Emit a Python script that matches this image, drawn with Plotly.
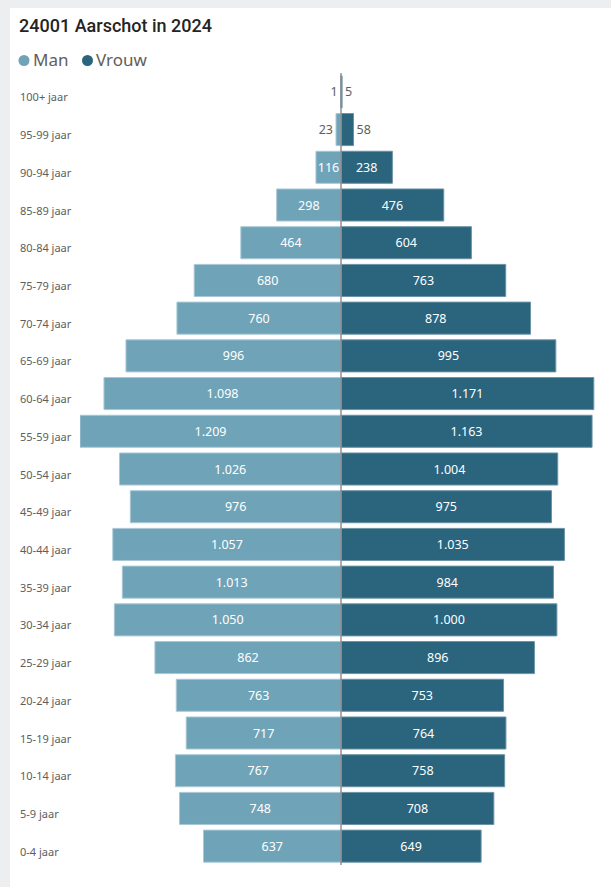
import plotly.graph_objects as go

categories = ["100+ jaar", "95-99 jaar", "90-94 jaar", "85-89 jaar", "80-84 jaar",
              "75-79 jaar", "70-74 jaar", "65-69 jaar", "60-64 jaar", "55-59 jaar",
              "50-54 jaar", "45-49 jaar", "40-44 jaar", "35-39 jaar", "30-34 jaar",
              "25-29 jaar", "20-24 jaar", "15-19 jaar", "10-14 jaar", "5-9 jaar", "0-4 jaar"]
man = [1, 23, 116, 298, 464, 680, 760, 996, 1098, 1209, 1026, 976, 1057, 1013, 1050,
       862, 763, 717, 767, 748, 637]
vrouw = [5, 58, 238, 476, 604, 763, 878, 995, 1171, 1163, 1004, 975, 1035, 984, 1000,
         896, 753, 764, 758, 708, 649]

C_MAN = "#6FA3B8"
C_VROUW = "#2A647D"
TXT = "#605E5C"

W, H = 611, 887
ML, MR, MT, MB = 80, 11, 73, 22
PW = W - ML - MR
PH = H - MT - MB


def fx(px):
    return (px - ML) / PW


def fy(py):
    return (H - MB - py) / PH


def fmt(v):
    return f"{v:,}".replace(",", ".")


def pos(v):
    return "inside" if v >= 100 else "outside"


fig = go.Figure()
fig.add_trace(go.Bar(
    y=categories, x=[-v for v in man], orientation="h", name="Man",
    marker=dict(color=C_MAN, line=dict(color="#A9C8D5", width=1)),
    text=[fmt(v) for v in man], textposition=[pos(v) for v in man],
    insidetextanchor="middle", constraintext="none", cliponaxis=False, textangle=0,
    insidetextfont=dict(color="white", size=12.5, family="Noto Sans"),
    outsidetextfont=dict(color=TXT, size=12.5, family="Noto Sans"),
    hoverinfo="skip", showlegend=False,
))
fig.add_trace(go.Bar(
    y=categories, x=vrouw, orientation="h", name="Vrouw",
    marker=dict(color=C_VROUW, line=dict(color="#6B93A5", width=1)),
    text=[fmt(v) for v in vrouw], textposition=[pos(v) for v in vrouw],
    insidetextanchor="middle", constraintext="none", cliponaxis=False, textangle=0,
    insidetextfont=dict(color="white", size=12.5, family="Noto Sans"),
    outsidetextfont=dict(color=TXT, size=12.5, family="Noto Sans"),
    hoverinfo="skip", showlegend=False,
))

max_m = max(man)
x_right = max_m * (PW / (341 - ML)) - max_m

annotations = []
for c in categories:
    annotations.append(dict(
        x=fx(18), xref="paper", y=c, yref="y", text=c, showarrow=False,
        xanchor="left", yanchor="middle", yshift=-5,
        font=dict(size=11, color=TXT, family="Noto Sans"),
    ))

# title
annotations.append(dict(
    x=fx(17), xref="paper", y=fy(25), yref="paper", text="24001 Aarschot in 2024",
    showarrow=False, xanchor="left", yanchor="middle",
    font=dict(size=18, color="#252423", family="Roboto", weight=500),
))
# legend text
annotations.append(dict(
    x=fx(31), xref="paper", y=fy(60), yref="paper", text="Man",
    showarrow=False, xanchor="left", yanchor="middle",
    font=dict(size=17, color=TXT, family="Noto Sans"),
))
annotations.append(dict(
    x=fx(94), xref="paper", y=fy(60), yref="paper", text="Vrouw",
    showarrow=False, xanchor="left", yanchor="middle",
    font=dict(size=17, color=TXT, family="Noto Sans"),
))

shapes = [
    # page background and card
    dict(type="rect", xref="paper", yref="paper", x0=fx(0), x1=fx(W), y0=fy(H), y1=fy(0),
         fillcolor="#EDEEEF", line=dict(width=0), layer="below"),
    dict(type="rect", xref="paper", yref="paper", x0=fx(10), x1=fx(W + 10), y0=fy(H + 10), y1=fy(8),
         fillcolor="white", line=dict(width=0), layer="below"),
    # legend markers
    dict(type="circle", xref="paper", yref="paper", x0=fx(18.5), x1=fx(29.5), y0=fy(66), y1=fy(55),
         fillcolor=C_MAN, line=dict(width=0)),
    dict(type="circle", xref="paper", yref="paper", x0=fx(82), x1=fx(93), y0=fy(66), y1=fy(55),
         fillcolor=C_VROUW, line=dict(width=0)),
    # center line
    dict(type="line", xref="x", yref="paper", x0=0, x1=0, y0=0, y1=1,
         line=dict(color="#8E9092", width=1.5), layer="above"),
]

fig.update_layout(
    width=W, height=H,
    margin=dict(l=ML, r=MR, t=MT, b=MB, pad=0),
    paper_bgcolor="white", plot_bgcolor="rgba(0,0,0,0)",
    barmode="overlay", bargap=0.15,
    separators=",.",
    xaxis=dict(range=[-max_m, x_right], visible=False, fixedrange=True),
    yaxis=dict(categoryorder="array", categoryarray=categories, autorange="reversed",
               showticklabels=False, showgrid=False, zeroline=False, fixedrange=True),
    annotations=annotations, shapes=shapes,
    showlegend=False,
)

fig.write_html("out.html", config={"displayModeBar": False},
               post_script="document.body.style.margin='0';document.body.style.overflow='hidden';")
